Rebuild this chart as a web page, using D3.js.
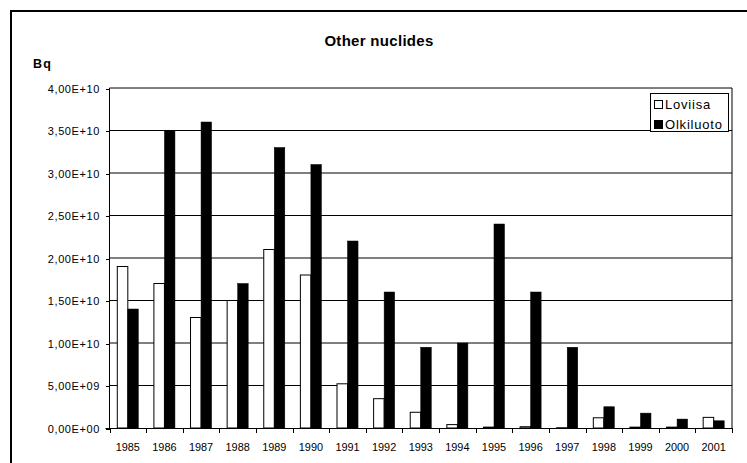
<!DOCTYPE html>
<html>
<head>
<meta charset="utf-8">
<script src="https://cdn.jsdelivr.net/npm/d3@7"></script>
<style>
  html, body { margin: 0; padding: 0; background: #fff; }
  svg { display: block; font-family: "Liberation Sans", Arial, sans-serif; }
</style>
</head>
<body>
<svg id="chart" width="747" height="463"></svg>
<script>
const years = ["1985","1986","1987","1988","1989","1990","1991","1992","1993","1994","1995","1996","1997","1998","1999","2000","2001"];
const seriesNames = ["Loviisa", "Olkiluoto"];
const loviisa = [1.9e10, 1.7e10, 1.3e10, 1.5e10, 2.1e10, 1.8e10, 5.2e9, 3.45e9, 1.85e9, 4.0e8, 1.0e8, 1.5e8, 3.0e7, 1.2e9, 1.0e8, 1.0e8, 1.25e9];
const olkiluoto = [1.4e10, 3.5e10, 3.6e10, 1.7e10, 3.3e10, 3.1e10, 2.2e10, 1.6e10, 9.5e9, 1.0e10, 2.4e10, 1.6e10, 9.5e9, 2.5e9, 1.75e9, 1.05e9, 8.5e8];
const yTicks = [0, 5e9, 1e10, 1.5e10, 2e10, 2.5e10, 3e10, 3.5e10, 4e10];
const yTickLabels = ["0,00E+00","5,00E+09","1,00E+10","1,50E+10","2,00E+10","2,50E+10","3,00E+10","3,50E+10","4,00E+10"];
const title = "Other nuclides";
const unitLabel = "Bq";

const svg = d3.select("#chart");

// outer chart border (extends beyond the visible area at right/bottom)
svg.append("rect").attr("x", 11).attr("y", 11).attr("width", 800).attr("height", 600)
  .attr("fill", "none").attr("stroke", "#000").attr("stroke-width", 2);

const pLeft = 109.5, pRight = 732, pTop = 88, pBottom = 428;

const y = d3.scaleLinear().domain([0, 4e10]).range([pBottom, pTop]);
const x0 = d3.scaleBand().domain(years).range([pLeft, pRight]).paddingInner(0).paddingOuter(0);
const x1 = d3.scaleBand().domain(seriesNames).range([0, x0.bandwidth()]).paddingInner(0).paddingOuter(0.74);

// gridlines
svg.append("g").selectAll("line").data(yTicks.slice(1)).join("line")
  .attr("x1", pLeft).attr("x2", pRight)
  .attr("y1", d => y(d)).attr("y2", d => y(d))
  .attr("stroke", "#000").attr("stroke-width", 1);

// right border of plot area
svg.append("line").attr("x1", pRight).attr("x2", pRight).attr("y1", pTop).attr("y2", pBottom)
  .attr("stroke", "#000").attr("stroke-width", 1);

// bars
const data = years.map((yr, i) => ({ year: yr, values: [
  { key: "Loviisa", v: loviisa[i] }, { key: "Olkiluoto", v: olkiluoto[i] } ] }));

const groups = svg.append("g").selectAll("g").data(data).join("g")
  .attr("transform", d => `translate(${x0(d.year)},0)`);
groups.selectAll("rect").data(d => d.values).join("rect")
  .attr("x", d => x1(d.key))
  .attr("width", x1.bandwidth())
  .attr("y", d => y(d.v))
  .attr("height", d => pBottom - y(d.v))
  .attr("fill", d => d.key === "Loviisa" ? "#fff" : "#000")
  .attr("stroke", "#000")
  .attr("stroke-width", d => d.key === "Loviisa" ? 1 : 0.5);

// y axis
const yAxis = d3.axisLeft(y).tickValues(yTicks).tickSize(4)
  .tickFormat((d, i) => yTickLabels[i]);
const gy = svg.append("g").attr("transform", `translate(${pLeft},0.5)`).call(yAxis);
gy.select(".domain").remove();
gy.selectAll(".tick line").attr("stroke", "#000").attr("shape-rendering", "crispEdges");
gy.selectAll(".tick text").attr("font-size", "11px").attr("letter-spacing", "0.6px")
  .attr("fill", "#000").attr("font-family", "Liberation Sans, Arial, sans-serif")
  .attr("x", -9.5).attr("dy", "0.34em");
svg.append("line").attr("x1", pLeft).attr("x2", pLeft).attr("y1", pTop).attr("y2", pBottom + 0.5)
  .attr("stroke", "#000");

// x axis
svg.append("line").attr("x1", pLeft - 4).attr("x2", pRight + 0.5).attr("y1", pBottom + 0.5).attr("y2", pBottom + 0.5)
  .attr("stroke", "#000");
const boundaries = years.map(yr => x0(yr)).concat([x0(years[years.length - 1]) + x0.bandwidth()]);
svg.append("g").selectAll("line").data(boundaries).join("line")
  .attr("x1", d => Math.round(d) + 0.5).attr("x2", d => Math.round(d) + 0.5)
  .attr("y1", pBottom).attr("y2", pBottom + 5)
  .attr("stroke", "#000");
svg.append("g").selectAll("text").data(years).join("text")
  .attr("x", d => x0(d) + x0.bandwidth() / 2)
  .attr("y", 450.5)
  .attr("text-anchor", "middle")
  .attr("font-size", "10.9px")
  .attr("fill", "#000")
  .text(d => d);

// title and unit
svg.append("text").attr("x", 379).attr("y", 45.5).attr("text-anchor", "middle")
  .attr("font-size", "15px").attr("font-weight", "bold").attr("letter-spacing", "0.3px")
  .text(title);
svg.append("text").attr("x", 33).attr("y", 67.5)
  .attr("font-size", "12.5px").attr("font-weight", "bold").attr("letter-spacing", "1.2px")
  .text(unitLabel);

// legend
const lg = svg.append("g");
lg.append("rect").attr("x", 650.5).attr("y", 93.5).attr("width", 78).attr("height", 38)
  .attr("fill", "#fff").attr("stroke", "#000");
const legendItems = lg.selectAll("g").data(seriesNames).join("g")
  .attr("transform", (d, i) => `translate(0,${i * 20})`);
legendItems.append("rect").attr("x", 654.5).attr("y", 100.5).attr("width", 8).attr("height", 8)
  .attr("fill", d => d === "Loviisa" ? "#fff" : "#000").attr("stroke", "#000");
legendItems.append("text").attr("x", 665).attr("y", 108.5)
  .attr("font-size", "13px").attr("letter-spacing", "0.8px")
  .text(d => d);
</script>
</body>
</html>
